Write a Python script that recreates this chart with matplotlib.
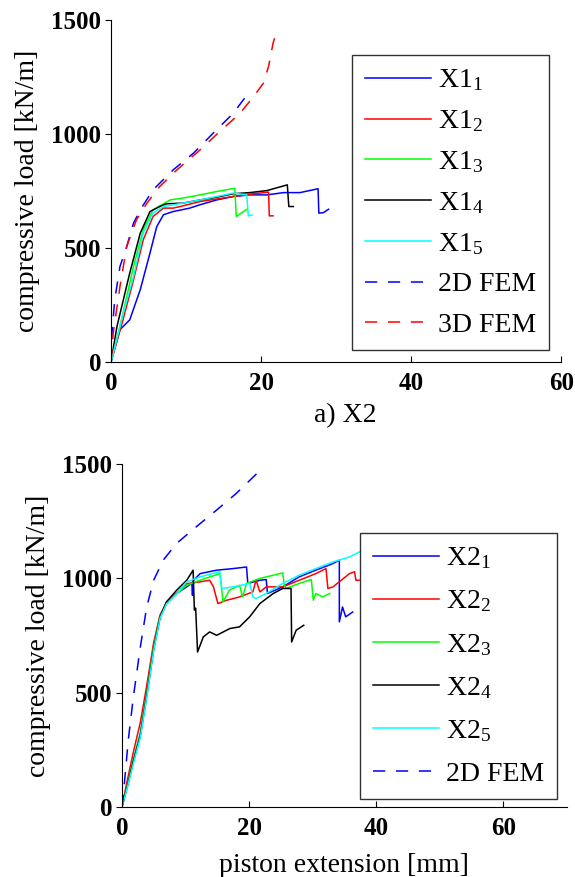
import matplotlib.pyplot as plt

plt.rcParams["font.family"] = ["Liberation Serif", "DejaVu Serif"]
plt.rcParams["mathtext.fontset"] = "custom"
plt.rcParams["mathtext.rm"] = "Liberation Serif"
plt.rcParams["mathtext.it"] = "Liberation Serif"

# ---- X1 specimens (top panel) ----
x1_1_x = [0, 1.2, 2.5, 3.9, 5.2, 6.1, 7.0, 8.3, 10.5, 11.9, 14.1, 16.3, 18.5, 20.8, 23.0, 25.2, 27.6, 27.7, 28.3, 29.0]
x1_1_y = [0, 142, 185, 317, 478, 594, 646, 660, 675, 690, 711, 726, 733, 733, 743, 743, 760, 653, 655, 670]
x1_2_x = [0, 1.6, 3.0, 4.3, 5.6, 7.0, 8.3, 9.6, 11.9, 16.3, 18.5, 21.0, 21.1, 21.6]
x1_2_y = [0, 185, 360, 536, 638, 675, 675, 685, 704, 726, 736, 745, 641, 641]
x1_3_x = [0, 1.2, 3.0, 4.3, 5.6, 7.0, 7.9, 9.6, 11.9, 14.1, 16.5, 16.7, 18.1]
x1_3_y = [0, 156, 419, 580, 667, 694, 711, 719, 733, 748, 762, 638, 670]
x1_4_x = [0, 0.8, 2.5, 3.9, 5.2, 6.5, 7.4, 9.6, 11.9, 14.1, 16.3, 18.5, 20.8, 23.5, 23.7, 24.3]
x1_4_y = [0, 156, 390, 565, 660, 682, 694, 697, 711, 723, 738, 743, 752, 777, 682, 682]
x1_5_x = [0, 1.4, 3.0, 4.3, 5.6, 7.0, 9.6, 11.9, 14.1, 16.3, 18.1, 18.3, 18.8]
x1_5_y = [0, 185, 375, 565, 653, 682, 697, 711, 726, 741, 733, 641, 645]
fem2d_top_x = [0, 0.1, 0.5, 1.2, 2.1, 3.0, 3.9, 5.6, 8.3, 11.0, 13.6, 16.3, 17.8]
fem2d_top_y = [0, 112, 273, 419, 507, 609, 667, 755, 843, 916, 1003, 1091, 1157]
fem3d_top_x = [0, 0.3, 1.2, 2.1, 3.4, 4.8, 6.5, 8.8, 11.9, 14.5, 17.2, 19.0, 20.3, 21.0, 21.6, 22.2]
fem3d_top_y = [0, 127, 332, 507, 624, 697, 770, 843, 931, 1011, 1091, 1164, 1222, 1296, 1398, 1464]

# ---- X2 specimens (bottom panel) ----
x2_1_x = [0, 0.8, 1.8, 2.9, 3.9, 5.0, 6.0, 7.0, 8.6, 10.2, 11.0, 11.1, 11.2, 12.3, 14.9, 17.5, 19.6, 19.8,
          21.7, 22.7, 22.9, 25.3, 27.9, 30.5, 33.2, 34.2, 34.2, 34.7, 35.2, 36.3]
x2_1_y = [0, 88, 204, 321, 496, 700, 832, 890, 934, 963, 980, 926, 990, 1021, 1036, 1043, 1050, 978,
          992, 995, 934, 963, 1007, 1036, 1065, 1080, 810, 875, 832, 853]
x2_2_x = [0, 0.8, 1.8, 2.9, 3.9, 5.0, 6.0, 7.0, 8.6, 10.2, 12.3, 13.8, 14.4, 15.1, 16.4, 18.5, 20.6, 21.1,
          21.7, 22.7, 25.3, 27.9, 30.5, 32.1, 32.4, 33.2, 35.8, 36.6, 36.8, 37.3]
x2_2_y = [0, 110, 240, 370, 530, 720, 840, 893, 934, 977, 985, 992, 963, 890, 904, 919, 941, 992,
          941, 963, 963, 992, 1021, 1043, 956, 963, 1021, 1029, 992, 992]
x2_3_x = [0, 0.8, 1.8, 2.9, 3.9, 5.0, 6.0, 7.0, 8.6, 10.2, 12.3, 15.4, 15.6, 15.9, 16.9, 18.5, 19.0, 19.6,
          21.7, 25.3, 25.5, 25.8, 27.9, 29.8, 30.1, 30.5, 31.6, 32.7]
x2_3_y = [0, 88, 204, 321, 496, 700, 832, 888, 932, 970, 992, 1021, 978, 897, 948, 970, 919, 978,
          1000, 1024, 978, 956, 978, 995, 905, 934, 919, 934]
x2_4_x = [0, 0.8, 1.8, 2.9, 3.9, 5.0, 6.0, 7.0, 8.6, 10.2, 11.2, 11.4, 11.6, 11.9, 12.8, 13.8, 14.9, 17.0,
          18.5, 20.1, 21.7, 23.8, 25.3, 26.6, 26.7, 27.4, 28.6]
x2_4_y = [0, 85, 198, 312, 485, 690, 830, 897, 948, 992, 1036, 861, 870, 678, 744, 766, 751, 781,
          788, 832, 890, 934, 956, 956, 722, 773, 795]
x2_5_x = [0, 0.8, 1.8, 2.9, 3.9, 5.0, 6.0, 7.0, 8.6, 10.2, 12.3, 15.4, 15.7, 17.5, 20.1, 20.6, 21.1, 22.7,
          25.3, 27.9, 30.5, 33.2, 35.8, 37.6]
x2_5_y = [0, 80, 190, 305, 478, 685, 826, 888, 932, 985, 1007, 1029, 956, 963, 978, 919, 912, 934,
          978, 1014, 1043, 1072, 1094, 1119]
fem2d_bot_x = [0, 0.15, 1.0, 1.8, 2.9, 3.9, 5.0, 6.5, 8.6, 11.7, 14.9, 18.0, 21.9]
fem2d_bot_y = [0, 29, 292, 481, 700, 875, 992, 1080, 1153, 1226, 1299, 1372, 1477]

colors = ["#0000ff", "#ff0000", "#00ff00", "#000000", "#00ffff"]
dash = (8, 7)


def style_axes(ax, xmax):
    ax.set_xlim(0, xmax)
    ax.set_ylim(0, 1500)
    ax.set_xticks([0, 20, 40, 60])
    ax.set_yticks([0, 500, 1000, 1500])
    ax.spines["top"].set_visible(False)
    ax.spines["right"].set_visible(False)
    ax.tick_params(axis="x", direction="in", length=4, labelsize=18, pad=7)
    ax.tick_params(axis="y", direction="out", length=4, labelsize=18, pad=3)
    for lab in ax.get_xticklabels() + ax.get_yticklabels():
        lab.set_fontweight("bold")
    ax.set_ylabel("compressive load [kN/m]", fontsize=20, labelpad=8)


def main() -> None:
    fig = plt.figure(figsize=(5.75, 8.77), dpi=100)
    ax1 = fig.add_axes([0.193, 0.5872, 0.783, 0.390])
    ax2 = fig.add_axes([0.212, 0.0798, 0.774, 0.391])

    # Top panel
    top = [(x1_1_x, x1_1_y), (x1_2_x, x1_2_y), (x1_3_x, x1_3_y), (x1_4_x, x1_4_y), (x1_5_x, x1_5_y)]
    for i, (xs, ys) in enumerate(top):
        ax1.plot(xs, ys, color=colors[i], lw=1.1, label="X1$_{%d}$" % (i + 1))
    ax1.plot(fem2d_top_x, fem2d_top_y, color=colors[0], lw=1.1, dashes=dash, label="2D FEM")
    ax1.plot(fem3d_top_x, fem3d_top_y, color=colors[1], lw=1.1, dashes=dash, label="3D FEM")
    style_axes(ax1, 60)
    ax1.set_xlabel("a) X2", fontsize=20)
    ax1.xaxis.set_label_coords(0.52, -0.12)

    # Bottom panel
    bot = [(x2_1_x, x2_1_y), (x2_2_x, x2_2_y), (x2_3_x, x2_3_y), (x2_4_x, x2_4_y), (x2_5_x, x2_5_y)]
    for i, (xs, ys) in enumerate(bot):
        ax2.plot(xs, ys, color=colors[i], lw=1.1, label="X2$_{%d}$" % (i + 1))
    ax2.plot(fem2d_bot_x, fem2d_bot_y, color=colors[0], lw=1.1, dashes=dash, label="2D FEM")
    style_axes(ax2, 70)
    ax2.set_xlabel("piston extension [mm]", fontsize=20)
    ax2.xaxis.set_label_coords(0.5, -0.135)

    legends = [(ax1, (549 / 575, 1 - 55 / 877), 0.54), (ax2, (557 / 575, 1 - 533 / 877), 0.62)]
    for ax, anchor, spacing in legends:
        leg = ax.legend(loc="upper right", bbox_to_anchor=anchor, bbox_transform=fig.transFigure,
                        fontsize=20, frameon=True, fancybox=False, borderaxespad=0,
                        handlelength=2.4, handletextpad=0.25, labelspacing=spacing, borderpad=0.45)
        leg.get_frame().set_edgecolor("black")
        leg.get_frame().set_linewidth(1.0)

    fig.savefig("out.png", dpi=100)
    plt.close(fig)


if __name__ == "__main__":
    main()
